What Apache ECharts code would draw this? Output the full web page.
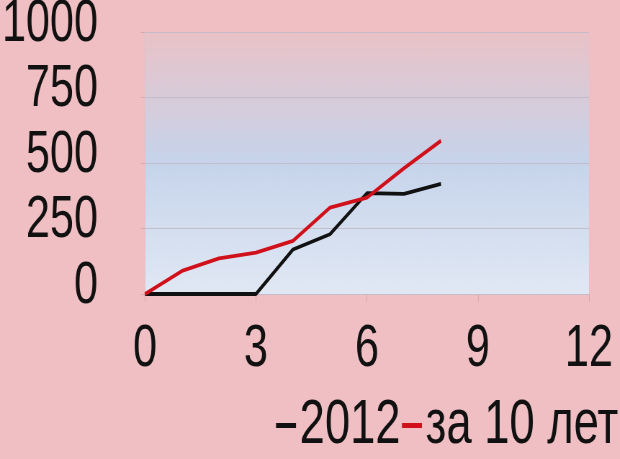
<!DOCTYPE html>
<html><head><meta charset="utf-8">
<script src="https://cdn.jsdelivr.net/npm/echarts@6/dist/echarts.min.js"></script>
<style>
html,body{margin:0;padding:0;background:#efbfc3;overflow:hidden;width:620px;height:459px;}
#c{width:861px;height:459px;transform:scaleX(0.72);transform-origin:0 0;}
</style>
</head><body><div id="c"></div>
<script>
var xValues = [0, 1, 2, 3, 4, 5, 6, 7, 8];
var series2012 = [0, 0, 0, 0, 170, 228, 385, 382, 420];
var series10y = [0, 88, 136, 158, 203, 330, 368, 480, 585];
var seriesNames = ['2012', 'за 10 лет'];
var xTicks = [0, 3, 6, 9, 12];
var yTicks = [0, 250, 500, 750, 1000];

function pairs(ys){ return xValues.map(function(x,i){ return [x, ys[i]]; }); }

var SX = 0.72; // horizontal condensation of the whole drawing
function px(v){ return v / SX; }
var font = '"Liberation Sans", Arial, sans-serif';
var chart = echarts.init(document.getElementById('c'));
chart.setOption({
  backgroundColor: '#efbfc3',
  animation: false,
  grid: { left: px(145), right: px(31), top: 32, bottom: 165, show: true, borderWidth: 0,
    outerBoundsMode: 'none', containLabel: false,
    backgroundColor: { type: 'linear', x: 0, y: 0, x2: 0, y2: 1, colorStops: [
      { offset: 0, color: '#e9c2c7' }, { offset: 0.5, color: '#c6d4eb' }, { offset: 1, color: '#e1e8f4' } ] } },
  legend: {
    left: px(276), top: 394, width: px(350), itemGap: 2, itemWidth: px(20), itemHeight: 5, icon: 'rect',
    padding: 0,
    textStyle: { fontFamily: font, fontSize: 63, color: '#111' },
    data: [{ name: seriesNames[0], itemStyle: { color: '#111' } }, { name: seriesNames[1], itemStyle: { color: '#d0101a' } }]
  },
  xAxis: {
    type: 'value', min: xTicks[0], max: xTicks[xTicks.length - 1], interval: 3,
    axisLine: { show: false },
    axisTick: { show: true, length: 8, lineStyle: { color: '#d9a9b0' } },
    splitLine: { show: false },
    axisLabel: { margin: 25, fontFamily: font, fontSize: 60, color: '#111' }
  },
  yAxis: {
    type: 'value', min: yTicks[0], max: yTicks[yTicks.length - 1], interval: 250,
    axisLine: { show: true, lineStyle: { color: '#d8c8d2', width: 1 } },
    axisTick: { show: true, length: 6, lineStyle: { color: '#d9a9b0' } },
    splitLine: { show: true, lineStyle: { color: '#c4bccb', width: 1 } },
    axisLabel: { margin: px(47), fontFamily: font, fontSize: 60, color: '#111',
      verticalAlign: 'bottom', lineHeight: 16,
      formatter: function(v){ return String(v); } }
  },
  series: [
    { name: seriesNames[0], type: 'line', data: pairs(series2012), showSymbol: false,
      lineStyle: { color: '#111', width: 3.8 }, itemStyle: { color: '#111' } },
    { name: seriesNames[1], type: 'line', data: pairs(series10y), showSymbol: false,
      lineStyle: { color: '#d0101a', width: 3.8 }, itemStyle: { color: '#d0101a' } }
  ]
});
</script></body></html>
